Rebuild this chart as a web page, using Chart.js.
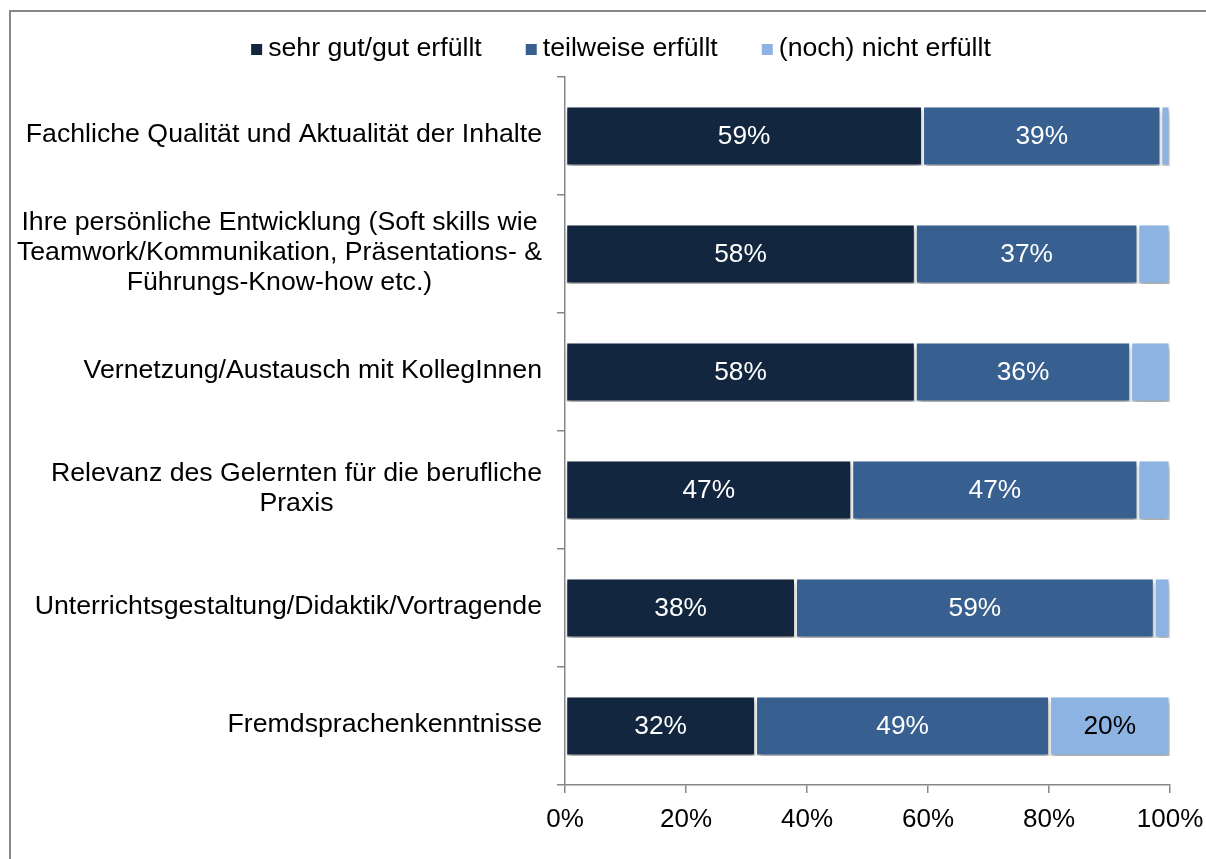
<!DOCTYPE html>
<html>
<head>
<meta charset="utf-8">
<script src="https://cdn.jsdelivr.net/npm/chart.js@4/dist/chart.umd.min.js"></script>
<style>
  body { margin: 0; background: #fff; }
  #wrap { position: relative; width: 1206px; height: 859px; overflow: hidden; }
  #frame { position: absolute; left: 9px; top: 10px; right: -10px; bottom: -10px;
           border-left: 2px solid #878787; border-top: 2px solid #878787; }
  canvas { position: absolute; left: 0; top: 0; }
</style>
</head>
<body>
<div id="wrap">
  <div id="frame"></div>
  <canvas id="chart" width="1206" height="859"></canvas>
</div>
<script>
const categories = [
  "Fachliche Qualität und Aktualität der Inhalte",
  ["Ihre persönliche Entwicklung (Soft skills wie", "Teamwork/Kommunikation, Präsentations- &", "Führungs-Know-how etc.)"],
  "Vernetzung/Austausch mit KollegInnen",
  ["Relevanz des Gelernten für die berufliche", "Praxis"],
  "Unterrichtsgestaltung/Didaktik/Vortragende",
  "Fremdsprachenkenntnisse"
];
const seriesNames = ["sehr gut/gut erfüllt", "teilweise erfüllt", "(noch) nicht erfüllt"];
const sehrGut = [59.1, 57.9, 57.9, 47.4, 38.1, 31.5];
const teilweise = [39.4, 36.8, 35.6, 47.3, 59.3, 48.6];
const nicht = [1.5, 5.3, 6.5, 5.3, 2.6, 19.9];
const xTicks = [0, 20, 40, 60, 80, 100];

const colors = ["#12263f", "#375f8f", "#8db3e2"];
const FONT = '"Liberation Sans", Arial, sans-serif';

// shadow under the bars
const shadowPlugin = {
  id: "shadow",
  beforeDatasetsDraw(chart) {
    const ctx = chart.ctx;
    ctx.save();
    ctx.shadowColor = "rgba(0,0,0,0.35)";
    ctx.shadowBlur = 5;
    ctx.shadowOffsetX = 1;
    ctx.shadowOffsetY = 4;
  },
  afterDatasetsDraw(chart) {
    chart.ctx.restore();
  }
};

// percent values in the segments
const valuePlugin = {
  id: "values",
  afterDatasetsDraw(chart) {
    const ctx = chart.ctx;
    ctx.save();
    ctx.font = "26.3px " + FONT;
    ctx.textAlign = "center";
    ctx.textBaseline = "middle";
    chart.data.datasets.forEach((ds, di) => {
      const meta = chart.getDatasetMeta(di);
      meta.data.forEach((bar, i) => {
        const v = ds.data[i];
        if (v < 8) return;
        const p = bar.getProps(["x", "y", "base"], true);
        ctx.fillStyle = di === 2 ? "#000" : "#fff";
        ctx.fillText(Math.round(v) + "%", (p.x + p.base) / 2, p.y + 1);
      });
    });
    ctx.restore();
  }
};

// category labels: block right aligned, lines centered
const catPlugin = {
  id: "cats",
  afterDraw(chart) {
    const ctx = chart.ctx;
    const ys = chart.scales.y;
    ctx.save();
    ctx.font = "26.7px " + FONT;
    ctx.fillStyle = "#000";
    ctx.textAlign = "center";
    ctx.textBaseline = "middle";
    const right = ys.right - 23;
    categories.forEach((c, i) => {
      const lines = Array.isArray(c) ? c : [c];
      const w = Math.max(...lines.map(l => ctx.measureText(l).width));
      const cx = right - w / 2;
      const cy = ys.getPixelForTick(i);
      lines.forEach((l, j) => {
        ctx.fillText(l, cx, cy + (j - (lines.length - 1) / 2) * 30 - 1);
      });
    });
    ctx.restore();
  }
};

// legend at the top
const legendPlugin = {
  id: "topLegend",
  afterDraw(chart) {
    const ctx = chart.ctx;
    ctx.save();
    ctx.font = "26.7px " + FONT;
    ctx.textBaseline = "middle";
    ctx.textAlign = "left";
    const box = 11, gap = 6, spacing = 44;
    const items = chart.data.datasets.map(ds => ({ text: ds.label, color: ds.backgroundColor, w: box + gap + ctx.measureText(ds.label).width }));
    const total = items.reduce((s, it) => s + it.w, 0) + spacing * (items.length - 1);
    let x = chart.width / 2 + 18 - total / 2;
    const y = 49;
    items.forEach(it => {
      ctx.fillStyle = it.color;
      ctx.fillRect(x, y - 5, box, box);
      ctx.fillStyle = "#000";
      ctx.fillText(it.text, x + box + gap, y);
      x += it.w + spacing;
    });
    ctx.restore();
  }
};

const ctx = document.getElementById("chart").getContext("2d");
const myChart = new Chart(ctx, {
  type: "bar",
  data: {
    labels: categories,
    datasets: [
      { label: seriesNames[0], data: sehrGut, backgroundColor: colors[0] },
      { label: seriesNames[1], data: teilweise, backgroundColor: colors[1] },
      { label: seriesNames[2], data: nicht, backgroundColor: colors[2] }
    ].map(d => Object.assign(d, {
      borderColor: "#ffffff",
      borderWidth: 1.5,
      borderSkipped: false,
      categoryPercentage: 1,
      barPercentage: 0.51
    }))
  },
  options: {
    indexAxis: "y",
    responsive: false,
    animation: false,
    layout: { padding: { top: 77, right: 36, bottom: 0, left: 0 } },
    plugins: {
      legend: { display: false },
      tooltip: { enabled: false }
    },
    scales: {
      x: {
        stacked: true,
        min: 0,
        max: 100,
        afterBuildTicks: (scale) => { scale.ticks = xTicks.map(v => ({ value: v })); },
        ticks: {
          callback: (v) => v + "%",
          font: { size: 26, family: FONT },
          color: "#000",
          padding: 11,
          maxRotation: 0
        },
        grid: { drawOnChartArea: false, tickLength: 8, color: "#878787", lineWidth: 1.5 },
        border: { color: "#878787", width: 1.5 },
        afterFit: (scale) => { scale.height = 74; scale.paddingRight = 0; scale.paddingLeft = 0; }
      },
      y: {
        stacked: true,
        ticks: { display: false },
        grid: { drawOnChartArea: false, tickLength: 8, color: "#878787", lineWidth: 1.5, offset: true },
        border: { color: "#878787", width: 1.5 },
        afterFit: (scale) => { scale.width = 565; }
      }
    }
  },
  plugins: [shadowPlugin, valuePlugin, catPlugin, legendPlugin]
});
</script>
</body>
</html>
